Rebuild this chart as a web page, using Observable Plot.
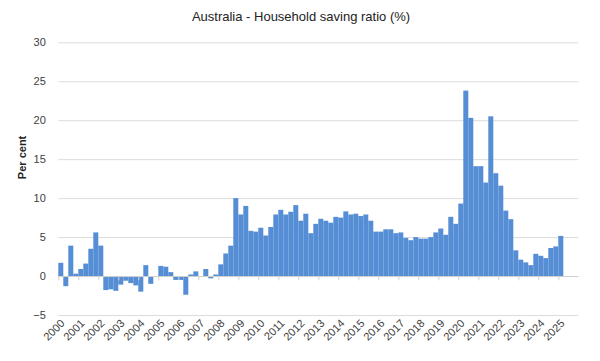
<!DOCTYPE html>
<html><head><meta charset="utf-8">
<script src="https://cdn.jsdelivr.net/npm/d3@7"></script>
<script src="https://cdn.jsdelivr.net/npm/@observablehq/plot@0.6"></script>
<style>
body{margin:0;background:#fff;width:600px;height:361px;overflow:hidden;font-family:"Liberation Sans",Arial,sans-serif;}
#title{height:34px;line-height:34px;text-align:center;font-size:13px;color:#222;padding-left:2px;}
#chart svg{display:block;}
</style></head><body>
<div id="title">Australia - Household saving ratio (%)</div>
<div id="chart"></div>
<script>
// Quarterly household saving ratio, 2000 Q1 .. 2025 Q1 (per cent)
const startYear = 2000;
const savingRatio = [
  1.7, -1.3, 3.9, 0.3,    // 2000
  0.9, 1.6, 3.5, 5.6,     // 2001
  3.9, -1.8, -1.7, -1.9,  // 2002
  -1.1, -0.6, -0.9, -1.2, // 2003
  -2.0, 1.4, -1.0, 0.0,   // 2004
  1.3, 1.2, 0.5, -0.5,    // 2005
  -0.5, -2.4, 0.2, 0.6,   // 2006
  -0.1, 0.9, -0.3, 0.2,   // 2007
  1.5, 2.9, 3.9, 10.0,    // 2008
  7.9, 9.0, 5.8, 5.7,     // 2009
  6.2, 5.2, 6.3, 7.9,     // 2010
  8.5, 7.9, 8.25, 9.1,    // 2011
  7.1, 8.0, 5.5, 6.7,     // 2012
  7.35, 7.1, 6.85, 7.6,   // 2013
  7.5, 8.3, 7.9, 8.0,     // 2014
  7.7, 7.9, 7.1, 5.7,     // 2015
  5.7, 6.0, 6.0, 5.5,     // 2016
  5.6, 4.9, 4.6, 5.0,     // 2017
  4.8, 4.8, 5.0, 5.6,     // 2018
  6.1, 5.3, 7.6, 6.7,     // 2019
  9.3, 23.8, 20.3, 14.1,  // 2020
  14.1, 12.0, 20.5, 13.2, // 2021
  11.6, 8.4, 7.3, 3.3,    // 2022
  2.1, 1.75, 1.4, 2.85,   // 2023
  2.6, 2.3, 3.6, 3.8,     // 2024
  5.15                    // 2025
];
const yTicks = [-5, 0, 5, 10, 15, 20, 25, 30];
const yearLabels = [2000,2001,2002,2003,2004,2005,2006,2007,2008,2009,2010,2011,2012,
  2013,2014,2015,2016,2017,2018,2019,2020,2021,2022,2023,2024,2025];
const yLabel = "Per cent";

const data = savingRatio.map((v, i) => ({t0: startYear + i / 4, t1: startYear + (i + 1) / 4, v}));

const chart = Plot.plot({
  width: 600, height: 327,
  marginLeft: 58.3, marginRight: 21.7, marginTop: 8.3, marginBottom: 46,
  x: {domain: [2000, 2026]},
  y: {domain: [-5, 30]},
  style: {fontFamily: "Liberation Sans, Arial, sans-serif", fontSize: "11px", color: "#404040", background: "#fff"},
  marks: [
    Plot.ruleY(yTicks, {stroke: "#dcdcdc", strokeWidth: 1}),
    Plot.rectY(data, {x1: "t0", x2: "t1", y1: 0, y2: "v", fill: "#558ed5"}),
    Plot.ruleY([0], {stroke: "#d0d0d0"}),
    Plot.ruleX(yearLabels, {x: d => d, y1: 0, y2: -0.55, stroke: "#d0d0d0"}),
    Plot.axisY(yTicks, {tickSize: 0, tickPadding: 13, label: null}),
    Plot.axisX(yearLabels, {tickSize: 0, tickRotate: -45, tickFormat: d => String(d), label: null, tickPadding: 6, dx: 4, fontSize: 11}),
    Plot.text([yLabel], {frameAnchor: "left", dx: -36, rotate: -90, fontWeight: "bold", fontSize: 11, fill: "#222"})
  ]
});
document.getElementById("chart").appendChild(chart);
</script>
</body></html>
